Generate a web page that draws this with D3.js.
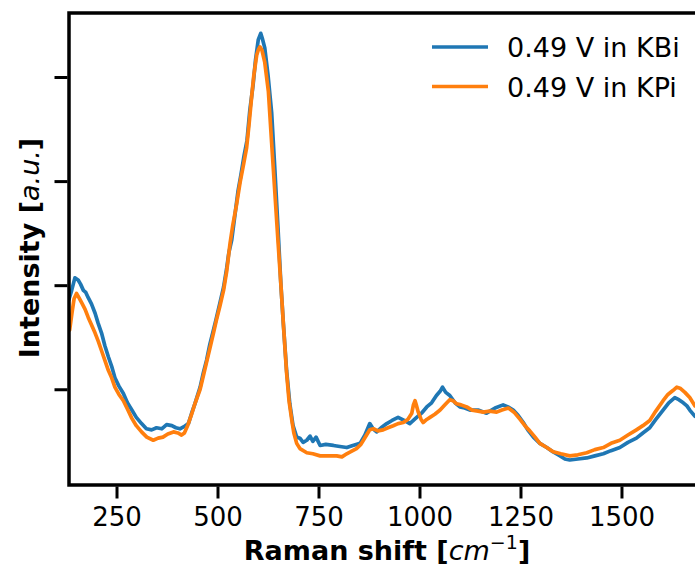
<!DOCTYPE html>
<html>
<head>
<meta charset="utf-8">
<script src="https://cdn.jsdelivr.net/npm/d3@7"></script>
<style>
  body { margin: 0; background: #fff; }
  svg { display: block; font-family: "DejaVu Sans", sans-serif; }
</style>
</head>
<body>
<svg id="chart" width="695" height="565"></svg>
<script>
// Raman spectra (intensity in arbitrary units)
const kbiShift = [132, 139, 147, 155, 161, 168, 174, 180, 188, 197, 204, 213, 221, 230, 238, 246, 256, 267, 277, 288, 299, 312, 324, 337, 349, 362, 374, 387, 397, 407, 417, 428, 436, 444, 457, 465, 473, 481, 490, 497, 506, 515, 523, 528, 535, 543, 551, 558, 566, 573, 580, 588, 594, 601, 607, 611, 617, 625, 634, 642, 650, 657, 663, 671, 679, 687, 696, 704, 712, 721, 729, 736, 744, 754, 768, 787, 803, 820, 835, 853, 865, 877, 885, 894, 905, 919, 932, 947, 962, 976, 993, 1005, 1018, 1030, 1042, 1051, 1057, 1065, 1075, 1088, 1100, 1112, 1125, 1145, 1166, 1187, 1207, 1219, 1232, 1244, 1257, 1268, 1282, 1298, 1315, 1330, 1348, 1360, 1372, 1392, 1414, 1434, 1455, 1474, 1496, 1516, 1537, 1553, 1570, 1585, 1603, 1617, 1632, 1642, 1653, 1662, 1669, 1682];
const kbiIntensity = [186, 195, 207, 205, 201, 195, 193, 188, 182, 173, 164, 154, 142, 131, 122, 111, 103, 96, 87, 80, 73, 67, 62, 61, 63, 62, 66, 65, 63, 62, 64, 67, 77, 86, 102, 116, 128, 143, 157, 168, 183, 198, 217, 231, 243, 267, 291, 306, 325, 339, 368, 392, 416, 436, 442, 437, 428, 402, 366, 311, 253, 200, 163, 118, 86, 65, 54, 53, 49, 51, 55, 50, 54, 46, 47, 46, 45, 44, 46, 48, 56, 67, 62, 59, 63, 67, 70, 73, 70, 67, 73, 77, 83, 87, 94, 98, 102, 97, 94, 87, 83, 82, 80, 80, 77, 82, 85, 83, 80, 75, 68, 61, 54, 48, 44, 40, 36, 33, 32, 33, 34, 36, 38, 41, 44, 49, 53, 58, 63, 71, 80, 87, 92, 90, 87, 84, 80, 74];

const kpiShift = [134, 140, 145, 151, 157, 164, 172, 180, 188, 197, 205, 213, 221, 230, 238, 246, 256, 267, 277, 288, 299, 312, 325, 341, 353, 365, 377, 391, 402, 411, 418, 427, 436, 444, 457, 465, 473, 481, 490, 497, 506, 515, 523, 531, 538, 547, 556, 564, 572, 578, 585, 590, 597, 601, 605, 610, 617, 626, 634, 642, 650, 657, 663, 671, 677, 684, 689, 696, 704, 721, 736, 754, 773, 795, 808, 820, 830, 844, 855, 869, 877, 886, 897, 910, 922, 935, 947, 960, 971, 981, 985, 989, 992, 997, 1004, 1009, 1018, 1026, 1038, 1051, 1063, 1075, 1083, 1092, 1103, 1117, 1130, 1145, 1158, 1174, 1191, 1204, 1220, 1234, 1249, 1261, 1273, 1286, 1298, 1315, 1331, 1350, 1372, 1392, 1414, 1434, 1455, 1474, 1496, 1516, 1537, 1553, 1570, 1585, 1603, 1615, 1628, 1637, 1645, 1657, 1669, 1682];
const kpiIntensity = [157, 174, 187, 192, 188, 183, 177, 169, 162, 154, 146, 137, 128, 118, 111, 102, 95, 89, 81, 72, 65, 59, 54, 51, 53, 54, 57, 59, 58, 56, 58, 66, 76, 86, 100, 113, 126, 139, 154, 166, 180, 195, 214, 240, 258, 277, 299, 315, 332, 354, 383, 402, 421, 426, 429, 426, 414, 386, 337, 289, 241, 200, 163, 116, 89, 70, 58, 48, 43, 39, 38, 36, 36, 36, 35, 38, 40, 43, 47, 56, 61, 62, 60, 61, 63, 65, 67, 68, 71, 77, 85, 89, 85, 78, 71, 68, 71, 73, 76, 80, 85, 90, 89, 86, 85, 83, 80, 79, 78, 79, 78, 80, 82, 78, 71, 65, 60, 54, 48, 44, 40, 38, 36, 37, 39, 42, 44, 48, 51, 56, 61, 65, 70, 79, 89, 95, 99, 102, 101, 97, 92, 84];

const seriesNames = ['0.49 V in KBi', '0.49 V in KPi'];
const seriesColors = ['#1f77b4', '#ff7f0e'];
const xTicks = [250, 500, 750, 1000, 1250, 1500];
const yTicks = [100, 200, 300, 400];

const svg = d3.select('#chart');

const plotLeft = 69, plotTop = 13, plotBottom = 485, plotRight = 705;

const xScale = d3.scaleLinear()
  .domain([132.4, 1682])
  .range([plotLeft, 695]);

const yScale = d3.scaleLinear()
  .domain([8, 462])
  .range([plotBottom, 12.5]);

svg.append('clipPath').attr('id', 'plotclip')
  .append('rect')
  .attr('x', plotLeft).attr('y', plotTop)
  .attr('width', plotRight - plotLeft).attr('height', plotBottom - plotTop);

const line = d3.line()
  .x(d => xScale(d[0]))
  .y(d => yScale(d[1]));

const series = [
  d3.zip(kbiShift, kbiIntensity),
  d3.zip(kpiShift, kpiIntensity)
];

const plot = svg.append('g').attr('clip-path', 'url(#plotclip)');

series.forEach((s, i) => {
  plot.append('path')
    .datum(s)
    .attr('d', line)
    .attr('fill', 'none')
    .attr('stroke', seriesColors[i])
    .attr('stroke-width', 3.7)
    .attr('stroke-linejoin', 'round')
    .attr('stroke-linecap', 'round');
});

// frame
svg.append('rect')
  .attr('x', plotLeft).attr('y', plotTop)
  .attr('width', plotRight - plotLeft).attr('height', plotBottom - plotTop)
  .attr('fill', 'none')
  .attr('stroke', '#000')
  .attr('stroke-width', 3.5);

const xAxis = svg.append('g')
  .attr('transform', 'translate(0,' + (plotBottom + 1.5) + ')')
  .call(d3.axisBottom(xScale)
    .tickValues(xTicks)
    .tickSize(12)
    .tickPadding(9)
    .tickFormat(d3.format('d')));

xAxis.select('.domain').remove();
xAxis.selectAll('.tick line').attr('stroke', '#000').attr('stroke-width', 3);
xAxis.selectAll('.tick text')
  .attr('fill', '#000')
  .style('font-size', '26px')
  .style('font-family', '"DejaVu Sans", sans-serif');

const yAxis = svg.append('g')
  .attr('transform', 'translate(' + (plotLeft - 1.5) + ',0)')
  .call(d3.axisLeft(yScale)
    .tickValues(yTicks)
    .tickSize(13)
    .tickFormat(''));

yAxis.select('.domain').remove();
yAxis.selectAll('.tick line').attr('stroke', '#000').attr('stroke-width', 3);

// x label
const xl = svg.append('text')
  .attr('x', 387)
  .attr('y', 560)
  .attr('text-anchor', 'middle')
  .style('font-size', '27px')
  .style('font-weight', 'bold')
  .attr('fill', '#000');
xl.append('tspan').text('Raman shift [');
xl.append('tspan').text('cm').style('font-style', 'italic').style('font-weight', 'normal');
xl.append('tspan').text('\u22121').attr('dy', -11).style('font-size', '19px').style('font-weight', 'normal');
xl.append('tspan').text(']').attr('dy', 11);

// y label
const yl = svg.append('text')
  .attr('transform', 'translate(39,248) rotate(-90)')
  .attr('text-anchor', 'middle')
  .style('font-size', '27px')
  .style('font-weight', 'bold')
  .attr('fill', '#000');
yl.append('tspan').text('Intensity [');
yl.append('tspan').text('a.u.').style('font-style', 'italic').style('font-weight', 'normal');
yl.append('tspan').text(']');

// legend
const legend = svg.append('g');
seriesNames.forEach((name, i) => {
  const y = 47 + i * 39.5;
  legend.append('line')
    .attr('x1', 432).attr('x2', 488)
    .attr('y1', y).attr('y2', y)
    .attr('stroke', seriesColors[i])
    .attr('stroke-width', 3.3);
  legend.append('text')
    .attr('x', 507)
    .attr('y', y + 10)
    .style('font-size', '27px')
    .attr('fill', '#000')
    .text(name);
});
</script>
</body>
</html>
